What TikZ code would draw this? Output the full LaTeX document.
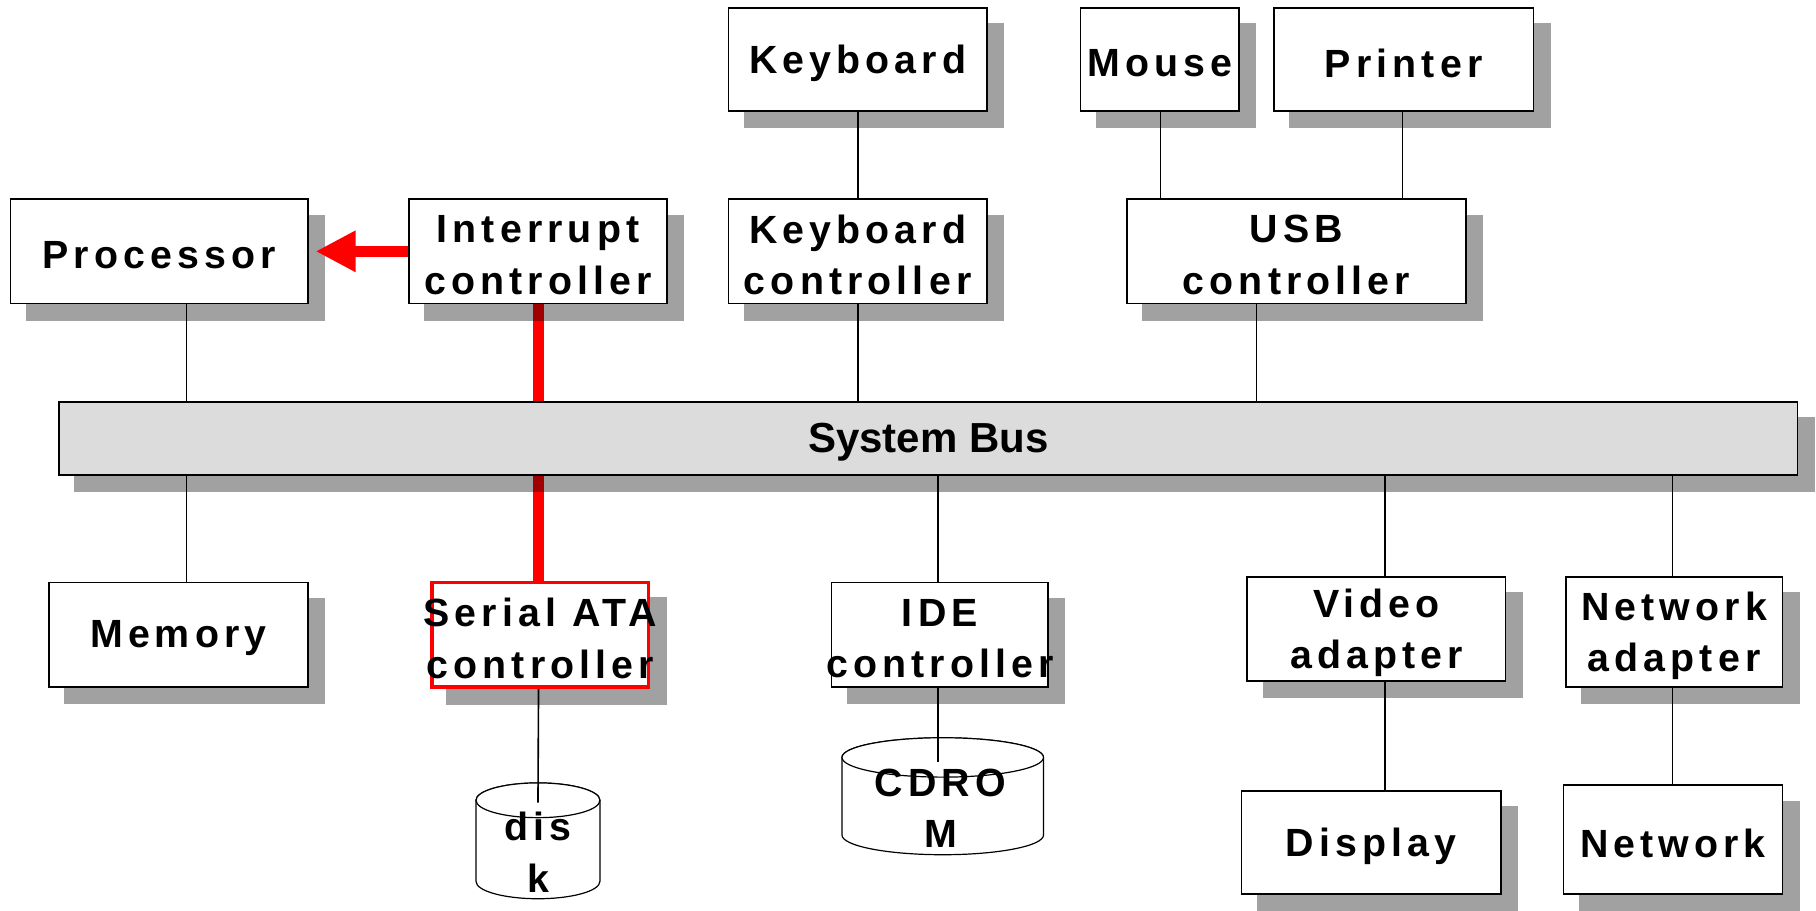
\documentclass[tikz,border=0pt]{standalone}
\usepackage{fontspec}
\setmainfont{Liberation Sans}
\newfontfamily\boxfont[LetterSpace=13]{Liberation Sans}
\usetikzlibrary{arrows.meta}
\pgfdeclarelayer{cyls}
\pgfdeclarelayer{lines}
\pgfdeclarelayer{shadows}
\pgfsetlayers{cyls,lines,shadows,main}
\definecolor{busgray}{RGB}{220,220,220}
\tikzset{
  box/.style={draw=black, line width=1.3pt, fill=white, inner sep=0pt},
  redbox/.style={box, draw=red, line width=2.8pt},
  busbox/.style={box, fill=busgray},
  boxtext/.style={inner sep=0pt, align=center,
    font=\boxfont\bfseries\fontsize{29.5pt}{38.5pt}\selectfont},
  bustext/.style={inner sep=0pt, font=\bfseries\fontsize{31.5pt}{36pt}\selectfont},
  link/.style={draw=black, line width=1.2pt},
  redlink/.style={draw=red, line width=8.7pt},
  shade/.style={fill=black, opacity=0.37},
  cyl/.style={draw=black, line width=0.9pt, fill=white}
}
\newcommand{\mkbox}[8]{%
  \node[#2, minimum width={(#5-#3)*0.8686pt}, minimum height={(#6-#4)*0.8686pt}] (#1) at ({(#3+#5)/2},{(#4+#6)/2}) {};
  \node[#7] (#1-text) at ([yshift=-2.8pt]#1.center) {#8};
  \begin{pgfonlayer}{shadows}
    \fill[shade] ([shift={(14,14)}]#1.north west) rectangle ([shift={(14,14)}]#1.south east);
  \end{pgfonlayer}}
\begin{document}
\begin{tikzpicture}[x=0.8686pt, y=-0.8686pt]
\useasboundingbox (0,0) rectangle (1568,786);
% ---- boxes
\mkbox{kbd}{box}{629}{7}{852}{96}{boxtext}{Keyboard}
\mkbox{mouse}{box}{933}{7}{1070}{96}{boxtext}{Mouse}
\mkbox{printer}{box}{1100}{7}{1324}{96}{boxtext}{Printer}
\mkbox{proc}{box}{9}{172}{266}{262}{boxtext}{Processor}
\mkbox{intc}{box}{353}{172}{576}{262}{boxtext}{Interrupt\\controller}
\mkbox{kbdc}{box}{629}{172}{852}{262}{boxtext}{Keyboard\\controller}
\mkbox{usb}{box}{973}{172}{1266}{262}{boxtext}{USB\\controller}
\mkbox{bus}{busbox}{51}{347}{1552}{410}{bustext}{System Bus}
\mkbox{mem}{box}{42}{503}{266}{593}{boxtext}{Memory}
\mkbox{sata}{redbox}{373}{503}{560}{593}{boxtext}{Serial ATA\\controller}
\mkbox{ide}{box}{718}{503}{905}{593}{boxtext}{IDE\\controller}
\mkbox{video}{box}{1077}{498}{1300}{588}{boxtext}{Video\\adapter}
\mkbox{netad}{box}{1352}{498}{1539}{593}{boxtext}{Network\\adapter}
\mkbox{display}{box}{1072}{683}{1296}{772}{boxtext}{Display}
\mkbox{net}{box}{1350}{678}{1539}{772}{boxtext}{Network}
% ---- cylinders
\begin{pgfonlayer}{cyls}
\draw[cyl] (411,691) -- (411,761) arc[start angle=180,end angle=0,x radius=53.5,y radius=15] -- (518,691) arc[start angle=0,end angle=-180,x radius=53.5,y radius=15] -- cycle;
\draw[cyl] (464.5,691) ellipse[x radius=53.5,y radius=15];
\draw[cyl] (727,654) -- (727,721) arc[start angle=180,end angle=0,x radius=87,y radius=17] -- (901,654) arc[start angle=0,end angle=-180,x radius=87,y radius=17] -- cycle;
\draw[cyl] (814,654) ellipse[x radius=87,y radius=17];
\end{pgfonlayer}
\node[boxtext] (disk) at (464.5,736) {dis\\k};
\node[boxtext] (cdrom) at (812,698) {CDRO\\M};
\coordinate (disktop) at (464.5,693);
\coordinate (cdtop) at (810,658);
% ---- x positions of connectors
\coordinate (x161) at (161,0);
\coordinate (x465) at (465,0);
\coordinate (x741) at (741,0);
\coordinate (x1002) at (1002,0);
\coordinate (x1211) at (1211,0);
\coordinate (x1085) at (1085,0);
\coordinate (x810) at (810,0);
\coordinate (x1196) at (1196,0);
\coordinate (x1444) at (1444,0);
% ---- connectors
\begin{pgfonlayer}{lines}
\draw[link] (proc.south -| x161) -- (bus.north -| x161);
\draw[link] (bus.south -| x161) -- (mem.north -| x161);
\draw[redlink] (intc.south -| x465) -- (sata.north -| x465);
\draw[link] (kbd.south -| x741) -- (kbdc.north -| x741);
\draw[link] (kbdc.south -| x741) -- (bus.north -| x741);
\draw[link] (mouse.south -| x1002) -- (usb.north -| x1002);
\draw[link] (printer.south -| x1211) -- (usb.north -| x1211);
\draw[link] (usb.south -| x1085) -- (bus.north -| x1085);
\draw[link] (bus.south -| x810) -- (ide.north -| x810);
\draw[link] (ide.south -| x810) -- (cdtop);
\draw[link] (sata.south -| x465) -- (disktop);
\draw[link] (bus.south -| x1196) -- (video.north -| x1196);
\draw[link] (video.south -| x1196) -- (display.north -| x1196);
\draw[link] (bus.south -| x1444) -- (netad.north -| x1444);
\draw[link] (netad.south -| x1444) -- (net.north -| x1444);
\end{pgfonlayer}
\draw[redlink, -{Triangle[length=30pt,width=29pt]}, shorten >=5pt] (intc.west) -- (proc.east);
\end{tikzpicture}
\end{document}
